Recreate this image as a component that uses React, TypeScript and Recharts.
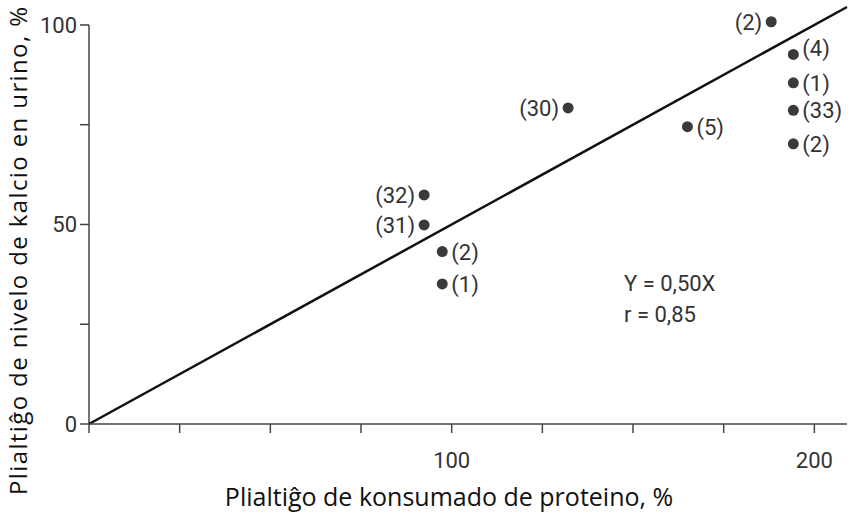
import React from 'react';
import { ScatterChart, Scatter, XAxis, YAxis, ReferenceLine } from 'recharts';

// Data
const pointX = [188.1, 194.2, 194.2, 194.2, 194.2, 132.1, 165.0, 92.4, 92.4, 97.4, 97.4];
const pointY = [100.8, 92.6, 85.5, 78.6, 70.2, 79.2, 74.5, 57.4, 49.9, 43.2, 35.1];
const pointLabels = ['(2)', '(4)', '(1)', '(33)', '(2)', '(30)', '(5)', '(32)', '(31)', '(2)', '(1)'];
const labelSide = ['left', 'right', 'right', 'right', 'right', 'left', 'right', 'left', 'left', 'right', 'right'];
const labelLift = [0, 6, 0, 0, 0, 0, 0, 0, 0, 0, 0];

const xTicks = [0, 25, 50, 75, 100, 125, 150, 175, 200];
const yTicks = [0, 25, 50, 75, 100];
const xLabeled = [100, 200];
const yLabeled = [0, 50, 100];

const regressionLine = [
  { x: 0, y: 0 },
  { x: 209, y: 104.5 },
];
const yAxisSegment = [
  { x: 0, y: 0 },
  { x: 0, y: 100 },
];

const equationText = ['Y = 0,50X', 'r = 0,85'];
const xTitle = 'Plialtiĝo de konsumado de proteino, %';
const yTitle = 'Plialtiĝo de nivelo de kalcio en urino, %';

const data = pointX.map((x, i) => ({
  x,
  y: pointY[i],
  label: pointLabels[i],
  side: labelSide[i],
  lift: labelLift[i],
}));

const NARROW = '"Roboto", sans-serif';
const TITLE = '"Open Sans", "Noto Sans", sans-serif';

const Dot = (props: any) => {
  const { cx, cy, payload } = props;
  const left = payload.side === 'left';
  return (
    <g>
      <circle cx={cx} cy={cy} r={5.5} fill="#3a3a3a" />
      <text
        x={left ? cx - 9 : cx + 9}
        y={cy - payload.lift}
        dy="0.36em"
        textAnchor={left ? 'end' : 'start'}
        fontFamily={NARROW}
        fontSize={22}
        fill="#333"
      >
        {payload.label}
      </text>
    </g>
  );
};

const XTitle = () => (
  <text x={449} y={506} textAnchor="middle" fontFamily={TITLE} fontSize={25} fill="#111">
    {xTitle}
  </text>
);

const YTitle = () => (
  <text
    x={27}
    y={251}
    transform="rotate(-90 27 251)"
    textAnchor="middle"
    fontFamily={TITLE}
    fontSize={24}
    textLength={488}
    lengthAdjust="spacing"
    fill="#111"
  >
    {yTitle}
  </text>
);

export default function App() {
  return (
    <div style={{ position: 'absolute', left: 0, top: 0, width: 848, height: 512, background: '#fff' }}>
      <ScatterChart width={848} height={512} margin={{ top: 5, right: 1, bottom: 0, left: 0 }}>
        <XAxis
          type="number"
          dataKey="x"
          domain={[0, 209]}
          ticks={xTicks}
          allowDataOverflow
          tickFormatter={(v: number) => (xLabeled.includes(v) ? String(v) : '')}
          tickSize={9}
          tickMargin={19}
          height={88}
          stroke="#444"
          strokeWidth={1.5}
          tick={{ fontFamily: NARROW, fontSize: 22, fill: '#333' }}
          label={{ value: xTitle, content: XTitle }}
        />
        <YAxis
          type="number"
          dataKey="y"
          domain={[0, 105]}
          ticks={yTicks}
          allowDataOverflow
          tickFormatter={(v: number) => (yLabeled.includes(v) ? String(v) : '')}
          tickSize={9}
          tickMargin={3}
          width={89}
          axisLine={false}
          stroke="#444"
          strokeWidth={1.5}
          tick={{ fontFamily: NARROW, fontSize: 22, fill: '#333' }}
          label={{ value: yTitle, content: YTitle }}
        />
        <ReferenceLine segment={yAxisSegment} stroke="#444" strokeWidth={1.5} />
        <ReferenceLine segment={regressionLine} stroke="#111" strokeWidth={2.5} />
        <Scatter data={data} shape={Dot} isAnimationActive={false} />
      </ScatterChart>
      <div
        style={{
          position: 'absolute',
          left: 624,
          top: 268,
          fontFamily: NARROW,
          fontSize: 22,
          lineHeight: '31px',
          color: '#333',
        }}
      >
        {equationText.map((t) => (
          <div key={t}>{t}</div>
        ))}
      </div>
    </div>
  );
}
